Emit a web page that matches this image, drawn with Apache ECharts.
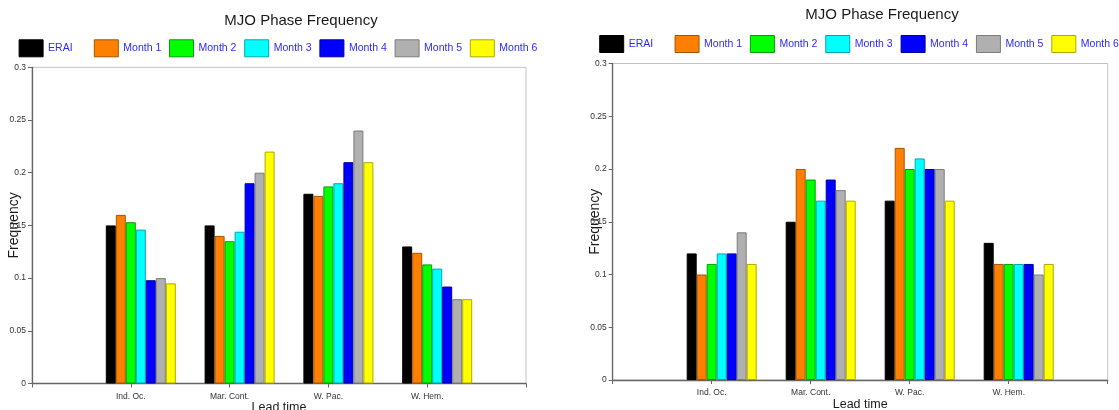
<!DOCTYPE html>
<html>
<head>
<meta charset="utf-8">
<script src="https://cdn.jsdelivr.net/npm/echarts@6/dist/echarts.min.js"></script>
<style>
  html, body { margin: 0; padding: 0; background: #ffffff; }
  #chart { width: 1119px; height: 410px; }
</style>
</head>
<body>
<div id="chart"></div>
<script>
// Regions on the x axis (one empty slot at each end of the axis)
const regions = ['Ind. Oc.', 'Mar. Cont.', 'W. Pac.', 'W. Hem.'];
const seriesNames = ['ERAI', 'Month 1', 'Month 2', 'Month 3', 'Month 4', 'Month 5', 'Month 6'];

// Y axis ticks
const yMin = 0;
const yMax = 0.3;
const yStep = 0.05;

// Left panel: frequency per region
const leftERAI   = [0.150, 0.150, 0.180, 0.130];
const leftMonth1 = [0.160, 0.140, 0.178, 0.124];
const leftMonth2 = [0.153, 0.135, 0.187, 0.113];
const leftMonth3 = [0.146, 0.144, 0.190, 0.109];
const leftMonth4 = [0.098, 0.190, 0.210, 0.092];
const leftMonth5 = [0.100, 0.200, 0.240, 0.080];
const leftMonth6 = [0.095, 0.220, 0.210, 0.080];

// Right panel: frequency per region
const rightERAI   = [0.12, 0.15, 0.17, 0.13];
const rightMonth1 = [0.10, 0.20, 0.22, 0.11];
const rightMonth2 = [0.11, 0.19, 0.20, 0.11];
const rightMonth3 = [0.12, 0.17, 0.21, 0.11];
const rightMonth4 = [0.12, 0.19, 0.20, 0.11];
const rightMonth5 = [0.14, 0.18, 0.20, 0.10];
const rightMonth6 = [0.11, 0.17, 0.17, 0.11];

const leftSets  = [leftERAI, leftMonth1, leftMonth2, leftMonth3, leftMonth4, leftMonth5, leftMonth6];
const rightSets = [rightERAI, rightMonth1, rightMonth2, rightMonth3, rightMonth4, rightMonth5, rightMonth6];

const fillColors   = ['#000000', '#ff7f00', '#00ff00', '#00ffff', '#0000ff', '#b0b0b0', '#ffff00'];
const borderColors = ['#000000', '#a85400', '#00a000', '#00a8a8', '#0000a0', '#7c7c7c', '#b0a800'];

const FONT = '"Liberation Sans", Arial, Helvetica, sans-serif';
const xCategories = [''].concat(regions, ['']);

// Panel geometry
const panels = [
  { left: 32,    top: 67.3, width: 494, height: 316.2, sets: leftSets,
    titleX: 301, titleTop: 13, legendX: 18.6, legendStep: 75.2, legendTop: 39.3, labelMargin: 8.5 },
  { left: 612.7, top: 63.5, width: 495, height: 316.5, sets: rightSets,
    titleX: 882, titleTop: 7.5, legendX: 599.2, legendStep: 75.35, legendTop: 35, labelMargin: 8 }
];

const option = {
  backgroundColor: '#ffffff',
  animation: false,
  title: [], legend: [], grid: [], xAxis: [], yAxis: [], series: []
};

panels.forEach(function (p, pi) {
  option.title.push({
    text: 'MJO Phase Frequency',
    left: p.titleX, top: p.titleTop, textAlign: 'center', padding: 0,
    textStyle: { fontFamily: FONT, fontSize: 15, fontWeight: 'normal', color: '#1a1a1a' }
  });

  seriesNames.forEach(function (name, si) {
    option.legend.push({
      data: [name],
      left: p.legendX + si * p.legendStep,
      top: p.legendTop,
      padding: 0,
      icon: 'rect',
      itemWidth: 24,
      itemHeight: 17,
      selectedMode: false,
      itemStyle: { borderWidth: 1 },
      textStyle: { fontFamily: FONT, fontSize: 10.5, color: '#2b2bff' }
    });
  });

  option.grid.push({
    left: p.left, top: p.top, width: p.width, height: p.height,
    containLabel: false, outerBoundsMode: 'none',
    show: true, borderColor: '#c4c4c4', borderWidth: 1, backgroundColor: 'transparent'
  });

  option.xAxis.push({
    type: 'category', gridIndex: pi, data: xCategories, boundaryGap: false,
    name: 'Lead time', nameLocation: 'middle', nameGap: 18, nameMoveOverlap: false,
    nameTextStyle: { fontFamily: FONT, fontSize: 12.5, color: '#1a1a1a' },
    axisLine: { show: true, lineStyle: { color: '#666666', width: 1.3 } },
    axisTick: { show: true, length: 4, alignWithLabel: true, lineStyle: { color: '#666666' } },
    axisLabel: { fontFamily: FONT, fontSize: 8.5, color: '#333333', margin: p.labelMargin, interval: 0 },
    splitLine: { show: false }
  });

  option.yAxis.push({
    type: 'value', gridIndex: pi, min: yMin, max: yMax, interval: yStep,
    name: 'Frequency', nameLocation: 'middle', nameGap: 11, nameRotate: 90, nameMoveOverlap: false,
    nameTextStyle: { fontFamily: FONT, fontSize: 14, color: '#1a1a1a' },
    axisLine: { show: true, lineStyle: { color: '#666666', width: 1.3 } },
    axisTick: { show: true, length: 4, lineStyle: { color: '#666666' } },
    axisLabel: { fontFamily: FONT, fontSize: 8.5, color: '#333333', margin: 6 },
    splitLine: { show: false }
  });

  // Two empty slots ahead of the seven bars so each group sits just right of its tick
  for (let k = 0; k < 2; k++) {
    option.series.push({
      type: 'bar', name: 'spacer' + pi + k, xAxisIndex: pi, yAxisIndex: pi,
      data: xCategories.map(function () { return null; }),
      barWidth: 10, barGap: '0%', silent: true
    });
  }

  p.sets.forEach(function (vals, si) {
    option.series.push({
      type: 'bar', name: seriesNames[si], xAxisIndex: pi, yAxisIndex: pi,
      data: [null].concat(vals, [null]),
      barWidth: 10, barGap: '0%',
      itemStyle: { color: fillColors[si], borderColor: borderColors[si], borderWidth: 1 },
      emphasis: { disabled: true }
    });
  });
});

const chart = echarts.init(document.getElementById('chart'), null, { renderer: 'canvas' });
chart.setOption(option);
</script>
</body>
</html>
